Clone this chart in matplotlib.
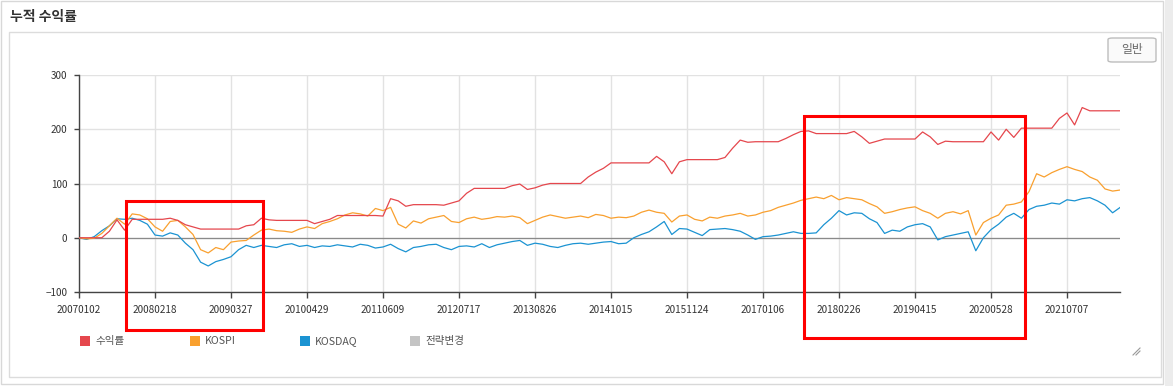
import matplotlib
matplotlib.use('Agg')
import matplotlib.pyplot as plt
from matplotlib.patches import Rectangle, FancyBboxPatch
from matplotlib.lines import Line2D
import numpy as np

plt.rcParams['font.family'] = ['Noto Sans CJK KR', 'DejaVu Sans']

# ---------------- data ----------------
title = '누적 수익률'
button_label = '일반'
series_names = ['수익률', 'KOSPI', 'KOSDAQ', '전략변경']
tick_labels = ['20070102', '20080218', '20090327', '20100429', '20110609',
               '20120717', '20130826', '20141015', '20151124', '20170106',
               '20180226', '20190415', '20200528', '20210707']
y_ticks = [-100, 0, 100, 200, 300]

returns = [0, 0, 0, 0, 12, 33, 14, 34, 34, 34,
           34, 34, 36, 32, 24, 20, 16, 16, 16, 16,
           16, 16, 22, 24, 36, 33, 32, 32, 32, 32,
           32, 26, 30, 34, 41, 41, 41, 41, 41, 41,
           40, 72, 68, 58, 61, 61, 61, 61, 60, 64,
           68, 82, 91, 91, 91, 91, 91, 96, 99, 89,
           92, 97, 100, 100, 100, 100, 100, 112, 121, 128,
           138, 138, 138, 138, 138, 138, 150, 140, 118, 140,
           144, 144, 144, 144, 144, 148, 165, 180, 176, 177,
           177, 177, 177, 183, 190, 196, 197, 192, 192, 192,
           192, 192, 196, 186, 174, 178, 182, 182, 182, 182,
           182, 195, 186, 172, 178, 177, 177, 177, 177, 177,
           195, 180, 200, 185, 202, 202, 202, 202, 202, 220,
           230, 208, 240, 234, 234, 234, 234, 234]

kospi = [0, -2, -1, 8, 22, 36, 25, 44, 42, 35,
         20, 12, 30, 32, 20, 6, -22, -28, -18, -22,
         -8, -6, -5, 5, 14, 16, 13, 12, 10, 16,
         20, 17, 26, 30, 35, 42, 46, 44, 40, 54,
         50, 56, 25, 18, 31, 27, 35, 38, 41, 30,
         28, 35, 38, 34, 36, 39, 38, 40, 37, 26,
         32, 38, 42, 39, 36, 38, 40, 37, 43, 41,
         36, 38, 37, 40, 47, 51, 47, 45, 29, 40,
         42, 34, 31, 38, 36, 40, 42, 45, 40, 42,
         47, 50, 56, 60, 64, 69, 72, 75, 72, 78,
         70, 74, 72, 70, 63, 57, 45, 48, 52, 55,
         57, 50, 45, 36, 45, 48, 44, 50, 5, 28,
         36, 42, 60, 62, 66, 85, 118, 112, 120, 126,
         131, 126, 122, 112, 106, 90, 86, 88]

kosdaq = [0, -3, 2, 13, 22, 35, 34, 36, 32, 25,
          5, 3, 9, 5, -10, -22, -45, -52, -44, -40,
          -35, -22, -14, -18, -14, -16, -18, -13, -11, -16,
          -14, -18, -15, -16, -13, -15, -17, -12, -14, -19,
          -17, -12, -20, -26, -18, -16, -13, -12, -18, -22,
          -16, -15, -17, -11, -18, -13, -10, -7, -5, -14,
          -10, -12, -16, -18, -14, -11, -10, -12, -10, -8,
          -7, -11, -10, 0, 6, 11, 20, 30, 6, 17,
          16, 10, 4, 15, 16, 17, 15, 12, 5, -3,
          2, 3, 5, 8, 11, 8, 8, 9, 24, 36,
          50, 42, 46, 45, 35, 28, 8, 14, 12, 20,
          24, 26, 20, -4, 2, 5, 8, 11, -24, 0,
          15, 25, 38, 45, 36, 52, 58, 60, 64, 62,
          70, 68, 72, 74, 68, 60, 46, 56]

colors = ['#e5474d', '#f9a02f', '#1b93d2', '#c4c4c4']

# ---------------- figure ----------------
W, H = 1173, 386
fig = plt.figure(figsize=(W / 100, H / 100), dpi=100)
fig.patch.set_facecolor('white')


def fx(px):
    return px / W


def fy(py):
    return 1 - py / H


# outer panel frame
fig.add_artist(Rectangle((fx(1), fy(384)), fx(1163) - fx(1), fy(1) - fy(384),
                         transform=fig.transFigure, fill=False,
                         edgecolor='#d8d8d8', lw=1.0))
fig.add_artist(Rectangle((fx(1165), 0), fx(1173) - fx(1165), 1,
                         transform=fig.transFigure, facecolor='#ececec',
                         edgecolor='none'))
# inner chart frame
fig.add_artist(Rectangle((fx(9), fy(377)), fx(1161) - fx(9), fy(32) - fy(377),
                         transform=fig.transFigure, fill=False,
                         edgecolor='#dcdcdc', lw=1.0))

fig.text(fx(10), fy(17), title, fontsize=10, color='#333333',
         ha='left', va='center', fontweight='bold')

# button
fig.add_artist(FancyBboxPatch((fx(1108), fy(62)), fx(1156) - fx(1108), fy(38) - fy(62),
                              boxstyle='round,pad=0,rounding_size=0.004',
                              transform=fig.transFigure, facecolor='#fafafa',
                              edgecolor='#bdbdbd', lw=1.0))
fig.text(fx(1132), fy(50), button_label, fontsize=8.5, color='#666666',
         ha='center', va='center')

# axes
n = len(returns)
left, right = 79, 79 + 7.6 * (n - 1)
top, bottom = 75, 292
ax = fig.add_axes([fx(left), fy(bottom), fx(right) - fx(left), fy(top) - fy(bottom)])
x = np.arange(n)

ax.set_xlim(0, n - 1)
ax.set_ylim(-100, 300)
ax.set_xticks(np.arange(0, 10 * len(tick_labels), 10))
ax.set_xticklabels(tick_labels)
ax.set_yticks(y_ticks)
ax.grid(True, color='#e2e2e2', lw=1.0)
ax.set_axisbelow(True)
ax.axhline(0, color='#8a8a8a', lw=0.9, zorder=1.5)

for s in ['top', 'right']:
    ax.spines[s].set_visible(False)
for s in ['left', 'bottom']:
    ax.spines[s].set_color('#444444')
    ax.spines[s].set_linewidth(1.0)
ax.tick_params(axis='x', length=4.5, width=1, color='#444444', pad=5,
               labelsize=7.2, labelcolor='#333333')
ax.tick_params(axis='y', length=3.5, width=1, color='#444444', pad=5,
               labelsize=7.2, labelcolor='#333333')

ax.plot(x, kosdaq, color=colors[2], lw=0.9, zorder=3)
ax.plot(x, kospi, color=colors[1], lw=0.9, zorder=3)
ax.plot(x, returns, color=colors[0], lw=0.9, zorder=4)

# legend
leg_x = [80, 190, 300, 410]
for lx, name, c in zip(leg_x, series_names, colors):
    fig.add_artist(Rectangle((fx(lx), fy(346)), fx(lx + 10) - fx(lx), fy(336) - fy(346),
                             transform=fig.transFigure, facecolor=c, edgecolor='none'))
    fig.text(fx(lx + 15), fy(341), name, fontsize=7.6, color='#555555',
             ha='left', va='center')

# red highlight boxes
for (x0, y0, x1, y1) in [(126, 201, 263, 330), (804, 116, 1025, 338)]:
    fig.add_artist(Rectangle((fx(x0), fy(y1)), fx(x1) - fx(x0), fy(y0) - fy(y1),
                             transform=fig.transFigure, fill=False,
                             edgecolor='#ff0000', lw=2.2, zorder=10))

# resize grip
fig.add_artist(Line2D([fx(1133), fx(1140)], [fy(355), fy(348)],
                      transform=fig.transFigure, color='#999999', lw=0.8))
fig.add_artist(Line2D([fx(1136), fx(1140)], [fy(355), fy(351)],
                      transform=fig.transFigure, color='#999999', lw=0.8))

fig.savefig('out.png', dpi=100)
